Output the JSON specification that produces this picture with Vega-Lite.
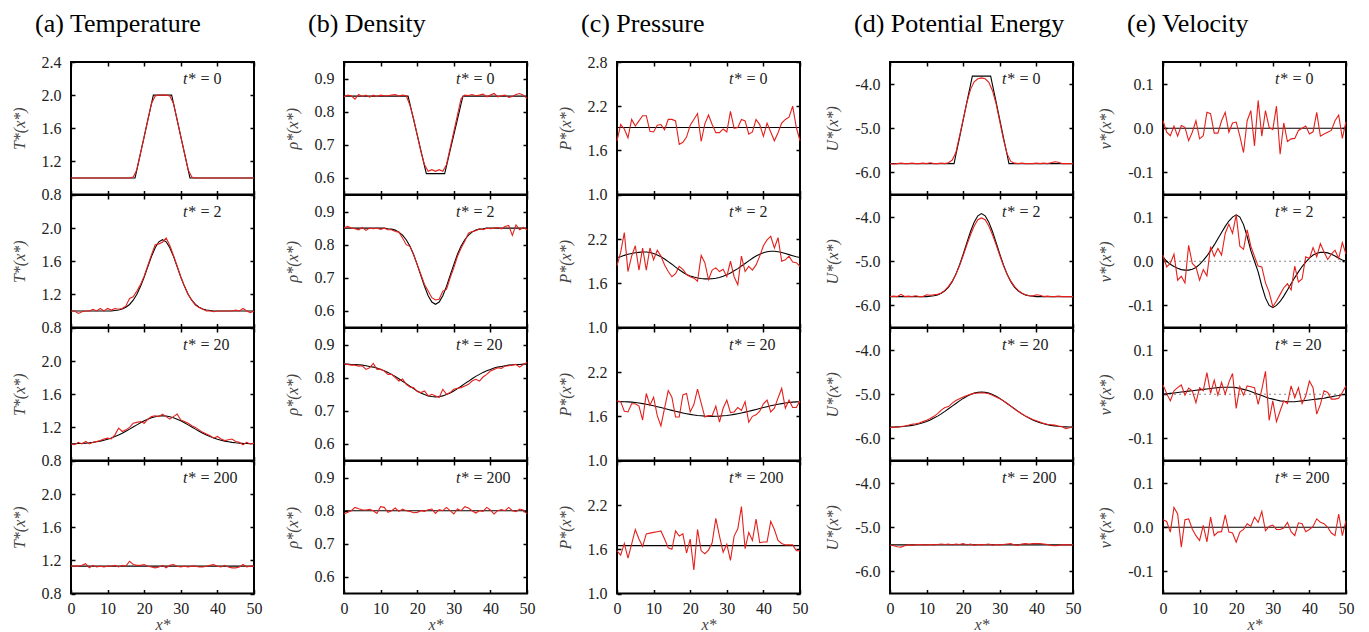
{
"$schema":"https://vega.github.io/schema/vega-lite/v6.json",
"background":"white",
"padding":{"left":10,"top":10,"right":0,"bottom":0},
"bounds":"flush",
"columns":5,
"spacing":{"row":0,"column":90},
"config":{
 "view":{"stroke":"#000","strokeWidth":2},
 "axis":{"grid":false,"domain":false,"tickSize":-4,"tickColor":"#000","tickWidth":1.5,"labelFont":"Liberation Serif","labelFontSize":16,"labelColor":"#222","labelPadding":14,"labelFlush":false,"labelOverlap":false,"titleFont":"Liberation Serif","titleFontSize":16,"titleFontWeight":"normal","titleFontStyle":"italic","titleColor":"#444"},
 "axisY":{"titlePadding":14},
 "axisX":{"titlePadding":0,"labelPadding":11},
 "line":{"strokeWidth":1.1},
 "text":{"font":"Liberation Serif","fontSize":16,"color":"#222","baseline":"middle"},
 "title":{"font":"Liberation Serif","fontSize":26,"fontWeight":"normal","color":"#000","anchor":"start","frame":"group","baseline":"alphabetic"}
},
"datasets":{
"a0":[{"x":0,"r":1,"b":1},{"x":1,"r":1,"b":1},{"x":2,"r":1,"b":1},{"x":3,"r":1,"b":1},{"x":4,"r":1,"b":1},{"x":5,"r":1,"b":1},{"x":6,"r":1,"b":1},{"x":7,"r":1,"b":1},{"x":8,"r":1,"b":1},{"x":9,"r":1,"b":1},{"x":10,"r":1,"b":1},{"x":11,"r":1,"b":1},{"x":12,"r":1,"b":1},{"x":13,"r":1,"b":1},{"x":14,"r":1,"b":1},{"x":15,"r":1,"b":1},{"x":16,"r":1,"b":1},{"x":17,"r":1.01,"b":1},{"x":17.5,"b":1},{"x":18,"r":1.1,"b":1.1},{"x":19,"r":1.3,"b":1.3},{"x":20,"r":1.5,"b":1.5},{"x":21,"r":1.7,"b":1.7},{"x":22,"r":1.9,"b":1.9},{"x":22.5,"b":2},{"x":23,"r":1.99,"b":2},{"x":24,"r":2,"b":2},{"x":25,"r":2,"b":2},{"x":26,"r":2,"b":2},{"x":27,"r":1.99,"b":2},{"x":27.5,"b":2},{"x":28,"r":1.9,"b":1.9},{"x":29,"r":1.7,"b":1.7},{"x":30,"r":1.5,"b":1.5},{"x":31,"r":1.3,"b":1.3},{"x":32,"r":1.1,"b":1.1},{"x":32.5,"b":1},{"x":33,"r":1.01,"b":1},{"x":34,"r":1,"b":1},{"x":35,"r":1,"b":1},{"x":36,"r":1,"b":1},{"x":37,"r":1,"b":1},{"x":38,"r":1,"b":1},{"x":39,"r":1,"b":1},{"x":40,"r":1,"b":1},{"x":41,"r":1,"b":1},{"x":42,"r":1,"b":1},{"x":43,"r":1,"b":1},{"x":44,"r":1,"b":1},{"x":45,"r":1,"b":1},{"x":46,"r":1,"b":1},{"x":47,"r":1,"b":1},{"x":48,"r":1,"b":1},{"x":49,"r":1,"b":1},{"x":50,"r":1,"b":1}],
"a2":[{"x":0,"r":1,"b":1},{"x":1,"r":1,"b":1},{"x":2,"r":0.97,"b":1},{"x":3,"r":0.99,"b":1},{"x":4,"r":1,"b":1},{"x":5,"r":1,"b":1},{"x":6,"r":1.02,"b":1},{"x":7,"r":1,"b":1},{"x":8,"r":1.03,"b":1},{"x":9,"r":1,"b":1},{"x":10,"r":1.03,"b":1},{"x":11,"r":1.01,"b":1},{"x":12,"r":1.03,"b":1.006},{"x":13,"r":1.02,"b":1.012},{"x":14,"r":1.03,"b":1.024},{"x":15,"r":1.06,"b":1.045},{"x":16,"r":1.15,"b":1.078},{"x":17,"r":1.17,"b":1.13},{"x":18,"r":1.24,"b":1.202},{"x":19,"r":1.32,"b":1.297},{"x":20,"r":1.42,"b":1.41},{"x":21,"r":1.55,"b":1.536},{"x":22,"r":1.68,"b":1.659},{"x":23,"r":1.8,"b":1.764},{"x":24,"r":1.81,"b":1.835},{"x":25,"r":1.83,"b":1.86},{"x":26,"r":1.88,"b":1.835},{"x":27,"r":1.79,"b":1.764},{"x":28,"r":1.67,"b":1.659},{"x":29,"r":1.54,"b":1.536},{"x":30,"r":1.41,"b":1.41},{"x":31,"r":1.3,"b":1.297},{"x":32,"r":1.2,"b":1.202},{"x":33,"r":1.13,"b":1.13},{"x":34,"r":1.07,"b":1.078},{"x":35,"r":1.04,"b":1.045},{"x":36,"r":1.02,"b":1.024},{"x":37,"r":1,"b":1.012},{"x":38,"r":1,"b":1.006},{"x":39,"r":0.99,"b":1},{"x":40,"r":1,"b":1},{"x":41,"r":1,"b":1},{"x":42,"r":1,"b":1},{"x":43,"r":1,"b":1},{"x":44,"r":1,"b":1},{"x":45,"r":1.01,"b":1},{"x":46,"r":1,"b":1},{"x":47,"r":1.03,"b":1},{"x":48,"r":1,"b":1},{"x":49,"r":0.98,"b":1},{"x":50,"r":1,"b":1}],
"a20":[{"x":0,"r":1,"b":1.002},{"x":1,"r":0.99,"b":1.003},{"x":2,"r":1.02,"b":1.005},{"x":3,"r":1,"b":1.007},{"x":4,"r":1.03,"b":1.01},{"x":5,"r":1,"b":1.014},{"x":6,"r":1.02,"b":1.019},{"x":7,"r":1.03,"b":1.026},{"x":8,"r":1.04,"b":1.034},{"x":9,"r":1.06,"b":1.045},{"x":10,"r":1.07,"b":1.057},{"x":11,"r":1.06,"b":1.072},{"x":12,"r":1.11,"b":1.089},{"x":13,"r":1.19,"b":1.108},{"x":14,"r":1.15,"b":1.13},{"x":15,"r":1.17,"b":1.154},{"x":16,"r":1.2,"b":1.179},{"x":17,"r":1.25,"b":1.205},{"x":18,"r":1.26,"b":1.23},{"x":19,"r":1.27,"b":1.255},{"x":20,"r":1.25,"b":1.279},{"x":21,"r":1.3,"b":1.299},{"x":22,"r":1.33,"b":1.317},{"x":23,"r":1.34,"b":1.329},{"x":24,"r":1.33,"b":1.337},{"x":25,"r":1.36,"b":1.34},{"x":26,"r":1.33,"b":1.337},{"x":27,"r":1.3,"b":1.329},{"x":28,"r":1.33,"b":1.317},{"x":29,"r":1.36,"b":1.299},{"x":30,"r":1.29,"b":1.279},{"x":31,"r":1.27,"b":1.255},{"x":32,"r":1.25,"b":1.23},{"x":33,"r":1.22,"b":1.205},{"x":34,"r":1.2,"b":1.179},{"x":35,"r":1.17,"b":1.154},{"x":36,"r":1.14,"b":1.13},{"x":37,"r":1.12,"b":1.108},{"x":38,"r":1.1,"b":1.089},{"x":39,"r":1.07,"b":1.072},{"x":40,"r":1.09,"b":1.057},{"x":41,"r":1.06,"b":1.045},{"x":42,"r":1.04,"b":1.034},{"x":43,"r":1.05,"b":1.026},{"x":44,"r":1.06,"b":1.019},{"x":45,"r":1.03,"b":1.014},{"x":46,"r":1.02,"b":1.01},{"x":47,"r":0.99,"b":1.007},{"x":48,"r":1.02,"b":1.005},{"x":49,"r":1,"b":1.003},{"x":50,"r":1.01,"b":1.002}],
"a200":[{"x":0,"r":1.13,"b":1.13},{"x":1,"r":1.13,"b":1.13},{"x":2,"r":1.13,"b":1.13},{"x":3,"r":1.14,"b":1.13},{"x":4,"r":1.16,"b":1.13},{"x":5,"r":1.11,"b":1.13},{"x":6,"r":1.14,"b":1.13},{"x":7,"r":1.12,"b":1.13},{"x":8,"r":1.13,"b":1.13},{"x":9,"r":1.12,"b":1.13},{"x":10,"r":1.13,"b":1.13},{"x":11,"r":1.13,"b":1.13},{"x":12,"r":1.14,"b":1.13},{"x":13,"r":1.12,"b":1.13},{"x":14,"r":1.14,"b":1.13},{"x":15,"r":1.13,"b":1.13},{"x":16,"r":1.19,"b":1.13},{"x":17,"r":1.15,"b":1.13},{"x":18,"r":1.14,"b":1.13},{"x":19,"r":1.14,"b":1.13},{"x":20,"r":1.15,"b":1.13},{"x":21,"r":1.13,"b":1.13},{"x":22,"r":1.12,"b":1.13},{"x":23,"r":1.11,"b":1.13},{"x":24,"r":1.12,"b":1.13},{"x":25,"r":1.14,"b":1.13},{"x":26,"r":1.11,"b":1.13},{"x":27,"r":1.14,"b":1.13},{"x":28,"r":1.15,"b":1.13},{"x":29,"r":1.13,"b":1.13},{"x":30,"r":1.12,"b":1.13},{"x":31,"r":1.13,"b":1.13},{"x":32,"r":1.12,"b":1.13},{"x":33,"r":1.13,"b":1.13},{"x":34,"r":1.13,"b":1.13},{"x":35,"r":1.12,"b":1.13},{"x":36,"r":1.12,"b":1.13},{"x":37,"r":1.13,"b":1.13},{"x":38,"r":1.14,"b":1.13},{"x":39,"r":1.15,"b":1.13},{"x":40,"r":1.13,"b":1.13},{"x":41,"r":1.12,"b":1.13},{"x":42,"r":1.14,"b":1.13},{"x":43,"r":1.12,"b":1.13},{"x":44,"r":1.11,"b":1.13},{"x":45,"r":1.11,"b":1.13},{"x":46,"r":1.12,"b":1.13},{"x":47,"r":1.15,"b":1.13},{"x":48,"r":1.12,"b":1.13},{"x":49,"r":1.13,"b":1.13},{"x":50,"r":1.13,"b":1.13}],
"b0":[{"x":0,"r":0.845,"b":0.847},{"x":1,"r":0.85,"b":0.847},{"x":2,"r":0.848,"b":0.847},{"x":3,"r":0.838,"b":0.847},{"x":4,"r":0.852,"b":0.847},{"x":5,"r":0.846,"b":0.847},{"x":6,"r":0.85,"b":0.847},{"x":7,"r":0.844,"b":0.847},{"x":8,"r":0.85,"b":0.847},{"x":9,"r":0.846,"b":0.847},{"x":10,"r":0.85,"b":0.847},{"x":11,"r":0.848,"b":0.847},{"x":12,"r":0.848,"b":0.847},{"x":13,"r":0.85,"b":0.847},{"x":14,"r":0.852,"b":0.847},{"x":15,"r":0.847,"b":0.847},{"x":16,"r":0.85,"b":0.847},{"x":17,"r":0.848,"b":0.847},{"x":17.5,"b":0.847},{"x":18,"r":0.82,"b":0.824},{"x":19,"r":0.78,"b":0.777},{"x":20,"r":0.73,"b":0.73},{"x":21,"r":0.68,"b":0.683},{"x":22,"r":0.64,"b":0.636},{"x":22.5,"b":0.613},{"x":23,"r":0.62,"b":0.613},{"x":24,"r":0.625,"b":0.613},{"x":25,"r":0.62,"b":0.613},{"x":26,"r":0.625,"b":0.613},{"x":27,"r":0.62,"b":0.613},{"x":27.5,"b":0.613},{"x":28,"r":0.64,"b":0.636},{"x":29,"r":0.69,"b":0.683},{"x":30,"r":0.74,"b":0.73},{"x":31,"r":0.79,"b":0.777},{"x":32,"r":0.84,"b":0.824},{"x":32.5,"b":0.847},{"x":33,"r":0.85,"b":0.847},{"x":34,"r":0.849,"b":0.847},{"x":35,"r":0.852,"b":0.847},{"x":36,"r":0.848,"b":0.847},{"x":37,"r":0.85,"b":0.847},{"x":38,"r":0.853,"b":0.847},{"x":39,"r":0.845,"b":0.847},{"x":40,"r":0.85,"b":0.847},{"x":41,"r":0.855,"b":0.847},{"x":42,"r":0.845,"b":0.847},{"x":43,"r":0.848,"b":0.847},{"x":44,"r":0.85,"b":0.847},{"x":45,"r":0.843,"b":0.847},{"x":46,"r":0.846,"b":0.847},{"x":47,"r":0.852,"b":0.847},{"x":48,"r":0.855,"b":0.847},{"x":49,"r":0.85,"b":0.847},{"x":50,"r":0.84,"b":0.847}],
"b2":[{"x":0,"r":0.85,"b":0.85},{"x":1,"r":0.855,"b":0.85},{"x":2,"r":0.85,"b":0.85},{"x":3,"r":0.848,"b":0.85},{"x":4,"r":0.845,"b":0.85},{"x":5,"r":0.852,"b":0.85},{"x":6,"r":0.843,"b":0.85},{"x":7,"r":0.85,"b":0.85},{"x":8,"r":0.848,"b":0.85},{"x":9,"r":0.85,"b":0.85},{"x":10,"r":0.846,"b":0.85},{"x":11,"r":0.85,"b":0.85},{"x":12,"r":0.845,"b":0.848},{"x":13,"r":0.845,"b":0.847},{"x":14,"r":0.84,"b":0.844},{"x":15,"r":0.838,"b":0.838},{"x":16,"r":0.82,"b":0.829},{"x":17,"r":0.8,"b":0.815},{"x":18,"r":0.795,"b":0.796},{"x":19,"r":0.77,"b":0.771},{"x":20,"r":0.74,"b":0.74},{"x":21,"r":0.71,"b":0.707},{"x":22,"r":0.68,"b":0.674},{"x":23,"r":0.66,"b":0.646},{"x":24,"r":0.64,"b":0.627},{"x":25,"r":0.633,"b":0.62},{"x":26,"r":0.635,"b":0.627},{"x":27,"r":0.66,"b":0.646},{"x":28,"r":0.665,"b":0.674},{"x":29,"r":0.7,"b":0.707},{"x":30,"r":0.73,"b":0.74},{"x":31,"r":0.765,"b":0.771},{"x":32,"r":0.79,"b":0.796},{"x":33,"r":0.81,"b":0.815},{"x":34,"r":0.835,"b":0.829},{"x":35,"r":0.84,"b":0.838},{"x":36,"r":0.842,"b":0.844},{"x":37,"r":0.848,"b":0.847},{"x":38,"r":0.845,"b":0.848},{"x":39,"r":0.85,"b":0.85},{"x":40,"r":0.848,"b":0.85},{"x":41,"r":0.85,"b":0.85},{"x":42,"r":0.852,"b":0.85},{"x":43,"r":0.848,"b":0.85},{"x":44,"r":0.855,"b":0.85},{"x":45,"r":0.858,"b":0.85},{"x":46,"r":0.828,"b":0.85},{"x":47,"r":0.86,"b":0.85},{"x":48,"r":0.845,"b":0.85},{"x":49,"r":0.852,"b":0.85},{"x":50,"r":0.845,"b":0.85}],
"b20":[{"x":0,"r":0.842,"b":0.841},{"x":1,"r":0.84,"b":0.841},{"x":2,"r":0.838,"b":0.84},{"x":3,"r":0.838,"b":0.84},{"x":4,"r":0.835,"b":0.839},{"x":5,"r":0.836,"b":0.838},{"x":6,"r":0.825,"b":0.836},{"x":7,"r":0.83,"b":0.834},{"x":8,"r":0.843,"b":0.832},{"x":9,"r":0.825,"b":0.829},{"x":10,"r":0.826,"b":0.825},{"x":11,"r":0.82,"b":0.821},{"x":12,"r":0.81,"b":0.816},{"x":13,"r":0.81,"b":0.81},{"x":14,"r":0.8,"b":0.804},{"x":15,"r":0.79,"b":0.797},{"x":16,"r":0.796,"b":0.789},{"x":17,"r":0.78,"b":0.782},{"x":18,"r":0.772,"b":0.774},{"x":19,"r":0.77,"b":0.767},{"x":20,"r":0.758,"b":0.76},{"x":21,"r":0.755,"b":0.754},{"x":22,"r":0.76,"b":0.749},{"x":23,"r":0.745,"b":0.745},{"x":24,"r":0.75,"b":0.743},{"x":25,"r":0.745,"b":0.742},{"x":26,"r":0.74,"b":0.743},{"x":27,"r":0.765,"b":0.745},{"x":28,"r":0.75,"b":0.749},{"x":29,"r":0.755,"b":0.754},{"x":30,"r":0.765,"b":0.76},{"x":31,"r":0.768,"b":0.767},{"x":32,"r":0.77,"b":0.774},{"x":33,"r":0.775,"b":0.782},{"x":34,"r":0.78,"b":0.789},{"x":35,"r":0.79,"b":0.797},{"x":36,"r":0.795,"b":0.804},{"x":37,"r":0.79,"b":0.81},{"x":38,"r":0.802,"b":0.816},{"x":39,"r":0.81,"b":0.821},{"x":40,"r":0.82,"b":0.825},{"x":41,"r":0.825,"b":0.829},{"x":42,"r":0.83,"b":0.832},{"x":43,"r":0.828,"b":0.834},{"x":44,"r":0.835,"b":0.836},{"x":45,"r":0.836,"b":0.838},{"x":46,"r":0.838,"b":0.839},{"x":47,"r":0.84,"b":0.84},{"x":48,"r":0.832,"b":0.84},{"x":49,"r":0.84,"b":0.841},{"x":50,"r":0.846,"b":0.841}],
"b200":[{"x":0,"r":0.79,"b":0.8},{"x":1,"r":0.795,"b":0.8},{"x":2,"r":0.8,"b":0.8},{"x":3,"r":0.81,"b":0.8},{"x":4,"r":0.806,"b":0.8},{"x":5,"r":0.803,"b":0.8},{"x":6,"r":0.802,"b":0.8},{"x":7,"r":0.804,"b":0.8},{"x":8,"r":0.8,"b":0.8},{"x":9,"r":0.792,"b":0.8},{"x":10,"r":0.812,"b":0.8},{"x":11,"r":0.81,"b":0.8},{"x":12,"r":0.795,"b":0.8},{"x":13,"r":0.8,"b":0.8},{"x":14,"r":0.808,"b":0.8},{"x":15,"r":0.798,"b":0.8},{"x":16,"r":0.805,"b":0.8},{"x":17,"r":0.8,"b":0.8},{"x":18,"r":0.798,"b":0.8},{"x":19,"r":0.794,"b":0.8},{"x":20,"r":0.795,"b":0.8},{"x":21,"r":0.8,"b":0.8},{"x":22,"r":0.798,"b":0.8},{"x":23,"r":0.803,"b":0.8},{"x":24,"r":0.805,"b":0.8},{"x":25,"r":0.792,"b":0.8},{"x":26,"r":0.803,"b":0.8},{"x":27,"r":0.8,"b":0.8},{"x":28,"r":0.81,"b":0.8},{"x":29,"r":0.8,"b":0.8},{"x":30,"r":0.79,"b":0.8},{"x":31,"r":0.805,"b":0.8},{"x":32,"r":0.8,"b":0.8},{"x":33,"r":0.812,"b":0.8},{"x":34,"r":0.808,"b":0.8},{"x":35,"r":0.8,"b":0.8},{"x":36,"r":0.793,"b":0.8},{"x":37,"r":0.8,"b":0.8},{"x":38,"r":0.798,"b":0.8},{"x":39,"r":0.81,"b":0.8},{"x":40,"r":0.802,"b":0.8},{"x":41,"r":0.79,"b":0.8},{"x":42,"r":0.8,"b":0.8},{"x":43,"r":0.803,"b":0.8},{"x":44,"r":0.8,"b":0.8},{"x":45,"r":0.81,"b":0.8},{"x":46,"r":0.8,"b":0.8},{"x":47,"r":0.797,"b":0.8},{"x":48,"r":0.805,"b":0.8},{"x":49,"r":0.802,"b":0.8},{"x":50,"r":0.79,"b":0.8}],
"c0":[{"x":0,"r":1.73,"b":1.91},{"x":1,"r":1.95,"b":1.91},{"x":2,"r":1.89,"b":1.91},{"x":3,"r":1.77,"b":1.91},{"x":4,"r":2.02,"b":1.91},{"x":5,"r":1.93,"b":1.91},{"x":6,"r":2.0,"b":1.91},{"x":7,"r":2.07,"b":1.91},{"x":8,"r":2.07,"b":1.91},{"x":9,"r":1.86,"b":1.91},{"x":10,"r":1.85,"b":1.91},{"x":11,"r":1.94,"b":1.91},{"x":12,"r":1.95,"b":1.91},{"x":13,"r":1.88,"b":1.91},{"x":14,"r":2.02,"b":1.91},{"x":15,"r":2.02,"b":1.91},{"x":16,"r":2.0,"b":1.91},{"x":17,"r":1.68,"b":1.91},{"x":18,"r":1.71,"b":1.91},{"x":19,"r":1.78,"b":1.91},{"x":20,"r":1.94,"b":1.91},{"x":21,"r":2.02,"b":1.91},{"x":22,"r":2.1,"b":1.91},{"x":23,"r":1.72,"b":1.91},{"x":24,"r":1.96,"b":1.91},{"x":25,"r":2.08,"b":1.91},{"x":26,"r":1.95,"b":1.91},{"x":27,"r":1.84,"b":1.91},{"x":28,"r":1.84,"b":1.91},{"x":29,"r":1.89,"b":1.91},{"x":30,"r":1.85,"b":1.91},{"x":31,"r":2.13,"b":1.91},{"x":32,"r":1.9,"b":1.91},{"x":33,"r":1.91,"b":1.91},{"x":34,"r":2.02,"b":1.91},{"x":35,"r":2.0,"b":1.91},{"x":36,"r":1.82,"b":1.91},{"x":37,"r":1.85,"b":1.91},{"x":38,"r":2.02,"b":1.91},{"x":39,"r":1.95,"b":1.91},{"x":40,"r":1.79,"b":1.91},{"x":41,"r":1.97,"b":1.91},{"x":42,"r":1.85,"b":1.91},{"x":43,"r":1.73,"b":1.91},{"x":44,"r":1.84,"b":1.91},{"x":45,"r":1.97,"b":1.91},{"x":46,"r":2.02,"b":1.91},{"x":47,"r":2.05,"b":1.91},{"x":48,"r":2.2,"b":1.91},{"x":49,"r":1.91,"b":1.91},{"x":50,"r":1.73,"b":1.91}],
"c2":[{"x":0,"r":1.84,"b":1.95},{"x":1,"r":2.02,"b":1.96},{"x":2,"r":2.29,"b":1.98},{"x":3,"r":1.76,"b":1.995},{"x":4,"r":1.97,"b":2.005},{"x":5,"r":2.11,"b":2.015},{"x":6,"r":1.78,"b":2.02},{"x":7,"r":2.08,"b":2.025},{"x":8,"r":1.78,"b":2.025},{"x":9,"r":2.08,"b":2.02},{"x":10,"r":1.92,"b":2.005},{"x":11,"r":2.05,"b":1.985},{"x":12,"r":1.97,"b":1.96},{"x":13,"r":1.85,"b":1.93},{"x":14,"r":1.76,"b":1.895},{"x":15,"r":1.69,"b":1.86},{"x":16,"r":1.73,"b":1.82},{"x":17,"r":1.83,"b":1.785},{"x":18,"r":1.79,"b":1.75},{"x":19,"r":1.72,"b":1.72},{"x":20,"r":1.69,"b":1.7},{"x":21,"r":1.67,"b":1.685},{"x":22,"r":1.63,"b":1.672},{"x":23,"r":1.98,"b":1.665},{"x":24,"r":1.88,"b":1.66},{"x":25,"r":1.65,"b":1.66},{"x":26,"r":1.78,"b":1.662},{"x":27,"r":1.81,"b":1.668},{"x":28,"r":1.76,"b":1.68},{"x":29,"r":1.79,"b":1.695},{"x":30,"r":1.69,"b":1.715},{"x":31,"r":1.9,"b":1.74},{"x":32,"r":1.69,"b":1.77},{"x":33,"r":1.58,"b":1.8},{"x":34,"r":1.97,"b":1.835},{"x":35,"r":1.76,"b":1.87},{"x":36,"r":1.83,"b":1.905},{"x":37,"r":1.78,"b":1.94},{"x":38,"r":1.85,"b":1.97},{"x":39,"r":1.97,"b":1.995},{"x":40,"r":2.11,"b":2.015},{"x":41,"r":2.19,"b":2.028},{"x":42,"r":2.24,"b":2.035},{"x":43,"r":2.08,"b":2.035},{"x":44,"r":2.22,"b":2.03},{"x":45,"r":1.9,"b":2.02},{"x":46,"r":1.92,"b":2.005},{"x":47,"r":1.97,"b":1.99},{"x":48,"r":1.89,"b":1.975},{"x":49,"r":1.88,"b":1.96},{"x":50,"r":1.83,"b":1.95}],
"c20":[{"x":0,"r":1.81,"b":1.799},{"x":1,"r":1.8,"b":1.8},{"x":2,"r":1.67,"b":1.799},{"x":3,"r":1.66,"b":1.797},{"x":4,"r":1.77,"b":1.793},{"x":5,"r":1.77,"b":1.788},{"x":6,"r":1.74,"b":1.781},{"x":7,"r":1.55,"b":1.773},{"x":8,"r":1.91,"b":1.764},{"x":9,"r":1.75,"b":1.754},{"x":10,"r":1.86,"b":1.743},{"x":11,"r":1.61,"b":1.731},{"x":12,"r":1.47,"b":1.719},{"x":13,"r":1.71,"b":1.706},{"x":14,"r":1.95,"b":1.694},{"x":15,"r":1.86,"b":1.681},{"x":16,"r":1.59,"b":1.669},{"x":17,"r":1.59,"b":1.657},{"x":18,"r":1.89,"b":1.646},{"x":19,"r":1.91,"b":1.636},{"x":20,"r":1.66,"b":1.627},{"x":21,"r":1.76,"b":1.619},{"x":22,"r":1.97,"b":1.612},{"x":23,"r":1.78,"b":1.607},{"x":24,"r":1.59,"b":1.603},{"x":25,"r":1.61,"b":1.601},{"x":26,"r":1.61,"b":1.6},{"x":27,"r":1.74,"b":1.601},{"x":28,"r":1.52,"b":1.603},{"x":29,"r":1.71,"b":1.607},{"x":30,"r":1.82,"b":1.612},{"x":31,"r":1.65,"b":1.619},{"x":32,"r":1.66,"b":1.627},{"x":33,"r":1.72,"b":1.636},{"x":34,"r":1.68,"b":1.646},{"x":35,"r":1.8,"b":1.657},{"x":36,"r":1.52,"b":1.669},{"x":37,"r":1.6,"b":1.681},{"x":38,"r":1.62,"b":1.694},{"x":39,"r":1.67,"b":1.706},{"x":40,"r":1.77,"b":1.719},{"x":41,"r":1.82,"b":1.731},{"x":42,"r":1.66,"b":1.743},{"x":43,"r":1.71,"b":1.754},{"x":44,"r":1.85,"b":1.764},{"x":45,"r":1.98,"b":1.773},{"x":46,"r":1.71,"b":1.781},{"x":47,"r":1.82,"b":1.788},{"x":48,"r":1.72,"b":1.793},{"x":49,"r":1.72,"b":1.797},{"x":50,"r":1.81,"b":1.799}],
"c200":[{"x":0,"r":1.58,"b":1.65},{"x":1,"r":1.52,"b":1.65},{"x":2,"r":1.68,"b":1.65},{"x":3,"r":1.48,"b":1.65},{"x":4,"r":1.67,"b":1.65},{"x":5,"r":1.87,"b":1.65},{"x":6,"r":1.74,"b":1.65},{"x":7,"r":1.64,"b":1.65},{"x":8,"r":1.81,"b":1.65},{"x":9,"r":1.82,"b":1.65},{"x":10,"r":1.83,"b":1.65},{"x":11,"r":1.84,"b":1.65},{"x":12,"r":1.85,"b":1.65},{"x":13,"r":1.74,"b":1.65},{"x":14,"r":1.62,"b":1.65},{"x":15,"r":1.6,"b":1.65},{"x":16,"r":1.85,"b":1.65},{"x":17,"r":1.78,"b":1.65},{"x":18,"r":1.81,"b":1.65},{"x":19,"r":1.55,"b":1.65},{"x":20,"r":1.74,"b":1.65},{"x":21,"r":1.32,"b":1.65},{"x":22,"r":1.87,"b":1.65},{"x":23,"r":1.58,"b":1.65},{"x":24,"r":1.54,"b":1.65},{"x":25,"r":1.59,"b":1.65},{"x":26,"r":1.69,"b":1.65},{"x":27,"r":2.02,"b":1.65},{"x":28,"r":1.78,"b":1.65},{"x":29,"r":1.56,"b":1.65},{"x":30,"r":1.67,"b":1.65},{"x":31,"r":1.45,"b":1.65},{"x":32,"r":1.78,"b":1.65},{"x":33,"r":1.88,"b":1.65},{"x":34,"r":2.18,"b":1.65},{"x":35,"r":1.61,"b":1.65},{"x":36,"r":1.83,"b":1.65},{"x":37,"r":1.72,"b":1.65},{"x":38,"r":2.01,"b":1.65},{"x":39,"r":1.69,"b":1.65},{"x":40,"r":1.7,"b":1.65},{"x":41,"r":1.7,"b":1.65},{"x":42,"r":1.98,"b":1.65},{"x":43,"r":1.87,"b":1.65},{"x":44,"r":1.72,"b":1.65},{"x":45,"r":1.68,"b":1.65},{"x":46,"r":1.66,"b":1.65},{"x":47,"r":1.66,"b":1.65},{"x":48,"r":1.66,"b":1.65},{"x":49,"r":1.58,"b":1.65},{"x":50,"r":1.58,"b":1.65}],
"d0":[{"x":0,"r":-5.8,"b":-5.8},{"x":1,"r":-5.81,"b":-5.8},{"x":2,"r":-5.8,"b":-5.8},{"x":3,"r":-5.79,"b":-5.8},{"x":4,"r":-5.8,"b":-5.8},{"x":5,"r":-5.8,"b":-5.8},{"x":6,"r":-5.79,"b":-5.8},{"x":7,"r":-5.8,"b":-5.8},{"x":8,"r":-5.8,"b":-5.8},{"x":9,"r":-5.79,"b":-5.8},{"x":10,"r":-5.8,"b":-5.8},{"x":11,"r":-5.78,"b":-5.8},{"x":12,"r":-5.8,"b":-5.8},{"x":13,"r":-5.8,"b":-5.8},{"x":14,"r":-5.79,"b":-5.8},{"x":15,"r":-5.8,"b":-5.8},{"x":16,"r":-5.78,"b":-5.8},{"x":17,"r":-5.72,"b":-5.8},{"x":17.5,"b":-5.8},{"x":18,"r":-5.55,"b":-5.6},{"x":19,"r":-5.18,"b":-5.21},{"x":20,"r":-4.8,"b":-4.81},{"x":21,"r":-4.42,"b":-4.41},{"x":22,"r":-4.12,"b":-4.02},{"x":22.5,"b":-3.82},{"x":23,"r":-3.95,"b":-3.82},{"x":24,"r":-3.88,"b":-3.82},{"x":25,"r":-3.86,"b":-3.82},{"x":26,"r":-3.88,"b":-3.82},{"x":27,"r":-3.96,"b":-3.82},{"x":27.5,"b":-3.82},{"x":28,"r":-4.15,"b":-4.02},{"x":29,"r":-4.45,"b":-4.41},{"x":30,"r":-4.85,"b":-4.81},{"x":31,"r":-5.25,"b":-5.21},{"x":32,"r":-5.58,"b":-5.6},{"x":32.5,"b":-5.8},{"x":33,"r":-5.75,"b":-5.8},{"x":34,"r":-5.79,"b":-5.8},{"x":35,"r":-5.8,"b":-5.8},{"x":36,"r":-5.79,"b":-5.8},{"x":37,"r":-5.8,"b":-5.8},{"x":38,"r":-5.8,"b":-5.8},{"x":39,"r":-5.8,"b":-5.8},{"x":40,"r":-5.79,"b":-5.8},{"x":41,"r":-5.8,"b":-5.8},{"x":42,"r":-5.79,"b":-5.8},{"x":43,"r":-5.8,"b":-5.8},{"x":44,"r":-5.78,"b":-5.8},{"x":45,"r":-5.76,"b":-5.8},{"x":46,"r":-5.77,"b":-5.8},{"x":47,"r":-5.8,"b":-5.8},{"x":48,"r":-5.8,"b":-5.8},{"x":49,"r":-5.8,"b":-5.8},{"x":50,"r":-5.8,"b":-5.8}],
"d2":[{"x":0,"r":-5.8,"b":-5.8},{"x":1,"r":-5.79,"b":-5.8},{"x":2,"r":-5.8,"b":-5.8},{"x":3,"r":-5.75,"b":-5.8},{"x":4,"r":-5.8,"b":-5.8},{"x":5,"r":-5.79,"b":-5.8},{"x":6,"r":-5.8,"b":-5.8},{"x":7,"r":-5.78,"b":-5.8},{"x":8,"r":-5.8,"b":-5.8},{"x":9,"r":-5.8,"b":-5.8},{"x":10,"r":-5.76,"b":-5.8},{"x":11,"r":-5.77,"b":-5.79},{"x":12,"r":-5.76,"b":-5.781},{"x":13,"r":-5.75,"b":-5.762},{"x":14,"r":-5.72,"b":-5.725},{"x":15,"r":-5.66,"b":-5.668},{"x":16,"r":-5.57,"b":-5.584},{"x":17,"r":-5.45,"b":-5.462},{"x":18,"r":-5.3,"b":-5.292},{"x":19,"r":-5.1,"b":-5.086},{"x":20,"r":-4.87,"b":-4.841},{"x":21,"r":-4.63,"b":-4.578},{"x":22,"r":-4.4,"b":-4.326},{"x":23,"r":-4.2,"b":-4.114},{"x":24,"r":-4.06,"b":-3.971},{"x":25,"r":-4.02,"b":-3.92},{"x":26,"r":-4.06,"b":-3.971},{"x":27,"r":-4.2,"b":-4.114},{"x":28,"r":-4.4,"b":-4.326},{"x":29,"r":-4.63,"b":-4.578},{"x":30,"r":-4.87,"b":-4.841},{"x":31,"r":-5.1,"b":-5.086},{"x":32,"r":-5.3,"b":-5.292},{"x":33,"r":-5.45,"b":-5.462},{"x":34,"r":-5.57,"b":-5.584},{"x":35,"r":-5.66,"b":-5.668},{"x":36,"r":-5.72,"b":-5.725},{"x":37,"r":-5.76,"b":-5.762},{"x":38,"r":-5.78,"b":-5.781},{"x":39,"r":-5.79,"b":-5.79},{"x":40,"r":-5.76,"b":-5.8},{"x":41,"r":-5.77,"b":-5.8},{"x":42,"r":-5.8,"b":-5.8},{"x":43,"r":-5.79,"b":-5.8},{"x":44,"r":-5.8,"b":-5.8},{"x":45,"r":-5.8,"b":-5.8},{"x":46,"r":-5.79,"b":-5.8},{"x":47,"r":-5.8,"b":-5.8},{"x":48,"r":-5.8,"b":-5.8},{"x":49,"r":-5.8,"b":-5.8},{"x":50,"r":-5.8,"b":-5.8}],
"d20":[{"x":0,"r":-5.75,"b":-5.744},{"x":1,"r":-5.75,"b":-5.742},{"x":2,"r":-5.74,"b":-5.738},{"x":3,"r":-5.73,"b":-5.733},{"x":4,"r":-5.72,"b":-5.726},{"x":5,"r":-5.7,"b":-5.716},{"x":6,"r":-5.68,"b":-5.704},{"x":7,"r":-5.67,"b":-5.689},{"x":8,"r":-5.65,"b":-5.669},{"x":9,"r":-5.62,"b":-5.645},{"x":10,"r":-5.59,"b":-5.616},{"x":11,"r":-5.55,"b":-5.581},{"x":12,"r":-5.5,"b":-5.54},{"x":13,"r":-5.44,"b":-5.495},{"x":14,"r":-5.36,"b":-5.444},{"x":15,"r":-5.3,"b":-5.388},{"x":16,"r":-5.28,"b":-5.329},{"x":17,"r":-5.2,"b":-5.268},{"x":18,"r":-5.14,"b":-5.208},{"x":19,"r":-5.1,"b":-5.149},{"x":20,"r":-5.06,"b":-5.094},{"x":21,"r":-5.03,"b":-5.045},{"x":22,"r":-5.0,"b":-5.005},{"x":23,"r":-4.98,"b":-4.975},{"x":24,"r":-4.97,"b":-4.957},{"x":25,"r":-4.97,"b":-4.95},{"x":26,"r":-4.97,"b":-4.957},{"x":27,"r":-4.99,"b":-4.975},{"x":28,"r":-5.02,"b":-5.005},{"x":29,"r":-5.06,"b":-5.045},{"x":30,"r":-5.1,"b":-5.094},{"x":31,"r":-5.15,"b":-5.149},{"x":32,"r":-5.21,"b":-5.208},{"x":33,"r":-5.27,"b":-5.268},{"x":34,"r":-5.33,"b":-5.329},{"x":35,"r":-5.39,"b":-5.388},{"x":36,"r":-5.44,"b":-5.444},{"x":37,"r":-5.49,"b":-5.495},{"x":38,"r":-5.53,"b":-5.54},{"x":39,"r":-5.57,"b":-5.581},{"x":40,"r":-5.6,"b":-5.616},{"x":41,"r":-5.63,"b":-5.645},{"x":42,"r":-5.66,"b":-5.669},{"x":43,"r":-5.68,"b":-5.689},{"x":44,"r":-5.69,"b":-5.704},{"x":45,"r":-5.7,"b":-5.716},{"x":46,"r":-5.72,"b":-5.726},{"x":47,"r":-5.73,"b":-5.733},{"x":48,"r":-5.78,"b":-5.738},{"x":49,"r":-5.76,"b":-5.742},{"x":50,"r":-5.74,"b":-5.744}],
"d200":[{"x":0,"r":-5.4,"b":-5.4},{"x":1,"r":-5.42,"b":-5.4},{"x":2,"r":-5.44,"b":-5.4},{"x":3,"r":-5.45,"b":-5.4},{"x":4,"r":-5.42,"b":-5.4},{"x":5,"r":-5.4,"b":-5.4},{"x":6,"r":-5.41,"b":-5.4},{"x":7,"r":-5.4,"b":-5.4},{"x":8,"r":-5.39,"b":-5.4},{"x":9,"r":-5.4,"b":-5.4},{"x":10,"r":-5.4,"b":-5.4},{"x":11,"r":-5.39,"b":-5.4},{"x":12,"r":-5.4,"b":-5.4},{"x":13,"r":-5.39,"b":-5.4},{"x":14,"r":-5.38,"b":-5.4},{"x":15,"r":-5.39,"b":-5.4},{"x":16,"r":-5.38,"b":-5.4},{"x":17,"r":-5.4,"b":-5.4},{"x":18,"r":-5.38,"b":-5.4},{"x":19,"r":-5.39,"b":-5.4},{"x":20,"r":-5.37,"b":-5.4},{"x":21,"r":-5.4,"b":-5.4},{"x":22,"r":-5.38,"b":-5.4},{"x":23,"r":-5.41,"b":-5.4},{"x":24,"r":-5.39,"b":-5.4},{"x":25,"r":-5.4,"b":-5.4},{"x":26,"r":-5.39,"b":-5.4},{"x":27,"r":-5.38,"b":-5.4},{"x":28,"r":-5.41,"b":-5.4},{"x":29,"r":-5.39,"b":-5.4},{"x":30,"r":-5.4,"b":-5.4},{"x":31,"r":-5.39,"b":-5.4},{"x":32,"r":-5.38,"b":-5.4},{"x":33,"r":-5.37,"b":-5.4},{"x":34,"r":-5.4,"b":-5.4},{"x":35,"r":-5.41,"b":-5.4},{"x":36,"r":-5.38,"b":-5.4},{"x":37,"r":-5.37,"b":-5.4},{"x":38,"r":-5.38,"b":-5.4},{"x":39,"r":-5.37,"b":-5.4},{"x":40,"r":-5.37,"b":-5.4},{"x":41,"r":-5.37,"b":-5.4},{"x":42,"r":-5.38,"b":-5.4},{"x":43,"r":-5.39,"b":-5.4},{"x":44,"r":-5.41,"b":-5.4},{"x":45,"r":-5.42,"b":-5.4},{"x":46,"r":-5.41,"b":-5.4},{"x":47,"r":-5.4,"b":-5.4},{"x":48,"r":-5.4,"b":-5.4},{"x":49,"r":-5.4,"b":-5.4},{"x":50,"r":-5.4,"b":-5.4}],
"e0":[{"x":0,"r":0.017,"b":0},{"x":1,"r":-0.009,"b":0},{"x":2,"r":-0.017,"b":0},{"x":3,"r":0.005,"b":0},{"x":4,"r":-0.018,"b":0},{"x":5,"r":0.006,"b":0},{"x":6,"r":0.002,"b":0},{"x":7,"r":-0.028,"b":0},{"x":8,"r":-0.009,"b":0},{"x":9,"r":0.017,"b":0},{"x":10,"r":-0.024,"b":0},{"x":11,"r":-0.017,"b":0},{"x":12,"r":0.036,"b":0},{"x":13,"r":0.033,"b":0},{"x":14,"r":-0.011,"b":0},{"x":15,"r":-0.011,"b":0},{"x":16,"r":0.017,"b":0},{"x":17,"r":0.036,"b":0},{"x":18,"r":-0.009,"b":0},{"x":19,"r":0.012,"b":0},{"x":20,"r":0.014,"b":0},{"x":21,"r":-0.018,"b":0},{"x":22,"r":-0.055,"b":0},{"x":23,"r":0.017,"b":0},{"x":24,"r":0.04,"b":0},{"x":25,"r":-0.04,"b":0},{"x":26,"r":0.063,"b":0},{"x":27,"r":-0.018,"b":0},{"x":28,"r":0.04,"b":0},{"x":29,"r":0.002,"b":0},{"x":30,"r":-0.003,"b":0},{"x":31,"r":0.05,"b":0},{"x":32,"r":-0.059,"b":0},{"x":33,"r":0.012,"b":0},{"x":34,"r":-0.03,"b":0},{"x":35,"r":-0.024,"b":0},{"x":36,"r":-0.023,"b":0},{"x":37,"r":-0.005,"b":0},{"x":38,"r":0,"b":0},{"x":39,"r":0.005,"b":0},{"x":40,"r":-0.013,"b":0},{"x":41,"r":-0.008,"b":0},{"x":42,"r":0.036,"b":0},{"x":43,"r":-0.018,"b":0},{"x":44,"r":-0.013,"b":0},{"x":45,"r":-0.009,"b":0},{"x":46,"r":-0.005,"b":0},{"x":47,"r":0.017,"b":0},{"x":48,"r":0.03,"b":0},{"x":49,"r":-0.023,"b":0},{"x":50,"r":0.015,"b":0}],
"e2":[{"x":0,"r":0.014,"b":0.01},{"x":1,"r":-0.013,"b":0},{"x":2,"r":-0.005,"b":-0.007},{"x":3,"r":0.016,"b":-0.012},{"x":4,"r":-0.043,"b":-0.016},{"x":5,"r":-0.034,"b":-0.019},{"x":6,"r":-0.049,"b":-0.02},{"x":7,"r":0.036,"b":-0.02},{"x":8,"r":-0.005,"b":-0.018},{"x":9,"r":-0.013,"b":-0.014},{"x":10,"r":-0.043,"b":-0.007},{"x":11,"r":-0.019,"b":0.002},{"x":12,"r":-0.033,"b":0.012},{"x":13,"r":0.033,"b":0.024},{"x":14,"r":0.011,"b":0.037},{"x":15,"r":0.029,"b":0.051},{"x":16,"r":0.014,"b":0.065},{"x":17,"r":0.063,"b":0.079},{"x":18,"r":0.084,"b":0.091},{"x":19,"r":0.063,"b":0.1},{"x":20,"r":0.105,"b":0.105},{"x":21,"r":0.034,"b":0.1},{"x":22,"r":0.027,"b":0.083},{"x":23,"r":0.071,"b":0.056},{"x":24,"r":0.034,"b":0.024},{"x":25,"r":0.011,"b":0},{"x":26,"r":-0.011,"b":-0.024},{"x":27,"r":-0.013,"b":-0.056},{"x":28,"r":-0.049,"b":-0.083},{"x":29,"r":-0.07,"b":-0.1},{"x":30,"r":-0.103,"b":-0.105},{"x":31,"r":-0.09,"b":-0.1},{"x":32,"r":-0.075,"b":-0.091},{"x":33,"r":-0.06,"b":-0.079},{"x":34,"r":-0.051,"b":-0.065},{"x":35,"r":-0.065,"b":-0.051},{"x":36,"r":-0.011,"b":-0.037},{"x":37,"r":-0.047,"b":-0.024},{"x":38,"r":-0.04,"b":-0.012},{"x":39,"r":0.01,"b":-0.002},{"x":40,"r":0.006,"b":0.007},{"x":41,"r":0.031,"b":0.014},{"x":42,"r":0.01,"b":0.018},{"x":43,"r":0.04,"b":0.02},{"x":44,"r":0.021,"b":0.02},{"x":45,"r":0.004,"b":0.019},{"x":46,"r":0.016,"b":0.016},{"x":47,"r":0.025,"b":0.012},{"x":48,"r":0.006,"b":0.007},{"x":49,"r":0.042,"b":0.003},{"x":50,"r":0.016,"b":0}],
"e20":[{"x":0,"r":0.021,"b":0},{"x":1,"r":0.002,"b":0.001},{"x":2,"r":-0.015,"b":0.002},{"x":3,"r":0.008,"b":0.003},{"x":4,"r":0.015,"b":0.004},{"x":5,"r":0.021,"b":0.005},{"x":6,"r":-0.002,"b":0.006},{"x":7,"r":0.014,"b":0.007},{"x":8,"r":0.008,"b":0.008},{"x":9,"r":-0.019,"b":0.009},{"x":10,"r":0.015,"b":0.01},{"x":11,"r":0.008,"b":0.011},{"x":12,"r":0.049,"b":0.012},{"x":13,"r":0.002,"b":0.013},{"x":14,"r":0.032,"b":0.014},{"x":15,"r":-0.002,"b":0.015},{"x":16,"r":0.027,"b":0.016},{"x":17,"r":0,"b":0.016},{"x":18,"r":0.027,"b":0.016},{"x":19,"r":0.047,"b":0.016},{"x":20,"r":-0.032,"b":0.015},{"x":21,"r":0.017,"b":0.013},{"x":22,"r":-0.002,"b":0.011},{"x":23,"r":0.019,"b":0.009},{"x":24,"r":0.017,"b":0.006},{"x":25,"r":0.015,"b":0.003},{"x":26,"r":-0.023,"b":0},{"x":27,"r":0.011,"b":-0.003},{"x":28,"r":0.052,"b":-0.006},{"x":29,"r":-0.059,"b":-0.009},{"x":30,"r":-0.015,"b":-0.011},{"x":31,"r":-0.062,"b":-0.013},{"x":32,"r":-0.038,"b":-0.015},{"x":33,"r":-0.015,"b":-0.016},{"x":34,"r":-0.021,"b":-0.017},{"x":35,"r":0.019,"b":-0.017},{"x":36,"r":-0.008,"b":-0.017},{"x":37,"r":0.015,"b":-0.016},{"x":38,"r":-0.021,"b":-0.015},{"x":39,"r":-0.004,"b":-0.014},{"x":40,"r":0.03,"b":-0.013},{"x":41,"r":0.015,"b":-0.012},{"x":42,"r":-0.045,"b":-0.011},{"x":43,"r":-0.023,"b":-0.01},{"x":44,"r":0.008,"b":-0.009},{"x":45,"r":0.004,"b":-0.007},{"x":46,"r":-0.011,"b":-0.006},{"x":47,"r":-0.011,"b":-0.004},{"x":48,"r":-0.009,"b":-0.003},{"x":49,"r":0.004,"b":-0.001},{"x":50,"r":0.019,"b":0}],
"e200":[{"x":0,"r":0.017,"b":0},{"x":1,"r":0.013,"b":0},{"x":2,"r":-0.011,"b":0},{"x":3,"r":0.045,"b":0},{"x":4,"r":0.03,"b":0},{"x":5,"r":-0.045,"b":0},{"x":6,"r":0.017,"b":0},{"x":7,"r":0.019,"b":0},{"x":8,"r":-0.004,"b":0},{"x":9,"r":-0.019,"b":0},{"x":10,"r":-0.03,"b":0},{"x":11,"r":0.004,"b":0},{"x":12,"r":-0.033,"b":0},{"x":13,"r":0.023,"b":0},{"x":14,"r":-0.019,"b":0},{"x":15,"r":-0.011,"b":0},{"x":16,"r":-0.01,"b":0},{"x":17,"r":0.028,"b":0},{"x":18,"r":-0.011,"b":0},{"x":19,"r":-0.013,"b":0},{"x":20,"r":-0.034,"b":0},{"x":21,"r":-0.011,"b":0},{"x":22,"r":-0.005,"b":0},{"x":23,"r":0.008,"b":0},{"x":24,"r":0.002,"b":0},{"x":25,"r":0.023,"b":0},{"x":26,"r":0.011,"b":0},{"x":27,"r":0.036,"b":0},{"x":28,"r":-0.008,"b":0},{"x":29,"r":0.002,"b":0},{"x":30,"r":0.005,"b":0},{"x":31,"r":-0.005,"b":0},{"x":32,"r":-0.005,"b":0},{"x":33,"r":-0.002,"b":0},{"x":34,"r":0.011,"b":0},{"x":35,"r":-0.01,"b":0},{"x":36,"r":-0.019,"b":0},{"x":37,"r":0.01,"b":0},{"x":38,"r":0.008,"b":0},{"x":39,"r":-0.01,"b":0},{"x":40,"r":-0.005,"b":0},{"x":41,"r":0.002,"b":0},{"x":42,"r":0.019,"b":0},{"x":43,"r":0.011,"b":0},{"x":44,"r":0.008,"b":0},{"x":45,"r":0,"b":0},{"x":46,"r":-0.013,"b":0},{"x":47,"r":-0.019,"b":0},{"x":48,"r":0.03,"b":0},{"x":49,"r":-0.019,"b":0},{"x":50,"r":0.015,"b":0}]
},
"concat":[
 {"data":{"name":"a0"},"width":183,"height":132.5,"title":{"text":"(a) Temperature","dx":-36,"offset":17},
  "layer":[
   {"mark":{"type":"line","color":"#000"},"encoding":{"x":{"field":"x","type":"quantitative","scale":{"domain":[0,50],"nice":false},"axis":{"values":[0,10,20,30,40,50],"labels":false,"title":null}},"y":{"field":"b","type":"quantitative","scale":{"domain":[0.8,2.4],"nice":false,"zero":false},"axis":{"values":[0.8,1.2,1.6,2.0,2.4],"format":".1f","title":"T*(x*)"}}}},
   {"transform":[{"filter":"isValid(datum.r)"}],"mark":{"type":"line","color":"#e3201c"},"encoding":{"x":{"field":"x","type":"quantitative","axis":{"orient":"top","values":[0,10,20,30,40,50],"labels":false,"title":null}},"y":{"field":"r","type":"quantitative","axis":{"orient":"right","values":[0.8,1.2,1.6,2.0,2.4],"labels":false,"title":null}}}},
   {"data":{"values":[{}]},"mark":{"type":"text","align":"right","fontStyle":"italic"},"encoding":{"x":{"datum":34,"axis":null},"y":{"datum":2.2,"axis":null},"text":{"value":"t*"}}},
   {"data":{"values":[{}]},"mark":{"type":"text","align":"left","dx":5},"encoding":{"x":{"datum":34,"axis":null},"y":{"datum":2.2,"axis":null},"text":{"value":"= 0"}}}
  ],"resolve":{"axis":{"x":"independent","y":"independent"}}},
 {"data":{"name":"b0"},"width":183,"height":132.5,"title":{"text":"(b) Density","dx":-36,"offset":24},
  "layer":[
   {"mark":{"type":"line","color":"#000"},"encoding":{"x":{"field":"x","type":"quantitative","scale":{"domain":[0,50],"nice":false},"axis":{"values":[0,10,20,30,40,50],"labels":false,"title":null}},"y":{"field":"b","type":"quantitative","scale":{"domain":[0.55,0.95],"nice":false,"zero":false},"axis":{"values":[0.6,0.7,0.8,0.9],"format":".1f","title":"ρ*(x*)"}}}},
   {"transform":[{"filter":"isValid(datum.r)"}],"mark":{"type":"line","color":"#e3201c"},"encoding":{"x":{"field":"x","type":"quantitative","axis":{"orient":"top","values":[0,10,20,30,40,50],"labels":false,"title":null}},"y":{"field":"r","type":"quantitative","axis":{"orient":"right","values":[0.6,0.7,0.8,0.9],"labels":false,"title":null}}}},
   {"data":{"values":[{}]},"mark":{"type":"text","align":"right","fontStyle":"italic"},"encoding":{"x":{"datum":34,"axis":null},"y":{"datum":0.9,"axis":null},"text":{"value":"t*"}}},
   {"data":{"values":[{}]},"mark":{"type":"text","align":"left","dx":5},"encoding":{"x":{"datum":34,"axis":null},"y":{"datum":0.9,"axis":null},"text":{"value":"= 0"}}}
  ],"resolve":{"axis":{"x":"independent","y":"independent"}}},
 {"data":{"name":"c0"},"width":183,"height":132.5,"title":{"text":"(c) Pressure","dx":-36,"offset":17},
  "layer":[
   {"mark":{"type":"line","color":"#000"},"encoding":{"x":{"field":"x","type":"quantitative","scale":{"domain":[0,50],"nice":false},"axis":{"values":[0,10,20,30,40,50],"labels":false,"title":null}},"y":{"field":"b","type":"quantitative","scale":{"domain":[1.0,2.8],"nice":false,"zero":false},"axis":{"values":[1.0,1.6,2.2,2.8],"format":".1f","title":"P*(x*)"}}}},
   {"transform":[{"filter":"isValid(datum.r)"}],"mark":{"type":"line","color":"#e3201c"},"encoding":{"x":{"field":"x","type":"quantitative","axis":{"orient":"top","values":[0,10,20,30,40,50],"labels":false,"title":null}},"y":{"field":"r","type":"quantitative","axis":{"orient":"right","values":[1.0,1.6,2.2,2.8],"labels":false,"title":null}}}},
   {"data":{"values":[{}]},"mark":{"type":"text","align":"right","fontStyle":"italic"},"encoding":{"x":{"datum":34,"axis":null},"y":{"datum":2.57,"axis":null},"text":{"value":"t*"}}},
   {"data":{"values":[{}]},"mark":{"type":"text","align":"left","dx":5},"encoding":{"x":{"datum":34,"axis":null},"y":{"datum":2.57,"axis":null},"text":{"value":"= 0"}}}
  ],"resolve":{"axis":{"x":"independent","y":"independent"}}},
 {"data":{"name":"d0"},"width":183,"height":132.5,"title":{"text":"(d) Potential Energy","dx":-36,"offset":24},
  "layer":[
   {"mark":{"type":"line","color":"#000"},"encoding":{"x":{"field":"x","type":"quantitative","scale":{"domain":[0,50],"nice":false},"axis":{"values":[0,10,20,30,40,50],"labels":false,"title":null}},"y":{"field":"b","type":"quantitative","scale":{"domain":[-6.5,-3.5],"nice":false,"zero":false},"axis":{"values":[-6,-5,-4],"format":".1f","labelExpr":"replace(datum.label,'\u2212','-')","title":"U*(x*)"}}}},
   {"transform":[{"filter":"isValid(datum.r)"}],"mark":{"type":"line","color":"#e3201c"},"encoding":{"x":{"field":"x","type":"quantitative","axis":{"orient":"top","values":[0,10,20,30,40,50],"labels":false,"title":null}},"y":{"field":"r","type":"quantitative","axis":{"orient":"right","values":[-6,-5,-4],"labels":false,"title":null}}}},
   {"data":{"values":[{}]},"mark":{"type":"text","align":"right","fontStyle":"italic"},"encoding":{"x":{"datum":34,"axis":null},"y":{"datum":-3.88,"axis":null},"text":{"value":"t*"}}},
   {"data":{"values":[{}]},"mark":{"type":"text","align":"left","dx":5},"encoding":{"x":{"datum":34,"axis":null},"y":{"datum":-3.88,"axis":null},"text":{"value":"= 0"}}}
  ],"resolve":{"axis":{"x":"independent","y":"independent"}}},
 {"data":{"name":"e0"},"width":183,"height":132.5,"title":{"text":"(e) Velocity","dx":-36,"offset":24},
  "layer":[
   {"mark":{"type":"line","color":"#000"},"encoding":{"x":{"field":"x","type":"quantitative","scale":{"domain":[0,50],"nice":false},"axis":{"values":[0,10,20,30,40,50],"labels":false,"title":null}},"y":{"field":"b","type":"quantitative","scale":{"domain":[-0.15,0.15],"nice":false,"zero":false},"axis":{"values":[-0.1,0,0.1],"format":".1f","labelExpr":"replace(datum.label,'\u2212','-')","title":"v*(x*)"}}}},
   {"transform":[{"filter":"isValid(datum.r)"}],"mark":{"type":"line","color":"#e3201c"},"encoding":{"x":{"field":"x","type":"quantitative","axis":{"orient":"top","values":[0,10,20,30,40,50],"labels":false,"title":null}},"y":{"field":"r","type":"quantitative","axis":{"orient":"right","values":[-0.1,0,0.1],"labels":false,"title":null}}}},
   {"data":{"values":[{}]},"mark":{"type":"text","align":"right","fontStyle":"italic"},"encoding":{"x":{"datum":34,"axis":null},"y":{"datum":0.112,"axis":null},"text":{"value":"t*"}}},
   {"data":{"values":[{}]},"mark":{"type":"text","align":"left","dx":5},"encoding":{"x":{"datum":34,"axis":null},"y":{"datum":0.112,"axis":null},"text":{"value":"= 0"}}}
  ],"resolve":{"axis":{"x":"independent","y":"independent"}}},

 {"data":{"name":"a2"},"width":183,"height":132.5,
  "layer":[
   {"mark":{"type":"line","color":"#000"},"encoding":{"x":{"field":"x","type":"quantitative","scale":{"domain":[0,50],"nice":false},"axis":{"values":[0,10,20,30,40,50],"labels":false,"title":null}},"y":{"field":"b","type":"quantitative","scale":{"domain":[0.8,2.4],"nice":false,"zero":false},"axis":{"values":[0.8,1.2,1.6,2.0],"format":".1f","title":"T*(x*)"}}}},
   {"transform":[{"filter":"isValid(datum.r)"}],"mark":{"type":"line","color":"#e3201c"},"encoding":{"x":{"field":"x","type":"quantitative","axis":{"orient":"top","values":[0,10,20,30,40,50],"labels":false,"title":null}},"y":{"field":"r","type":"quantitative","axis":{"orient":"right","values":[0.8,1.2,1.6,2.0],"labels":false,"title":null}}}},
   {"data":{"values":[{}]},"mark":{"type":"text","align":"right","fontStyle":"italic"},"encoding":{"x":{"datum":34,"axis":null},"y":{"datum":2.2,"axis":null},"text":{"value":"t*"}}},
   {"data":{"values":[{}]},"mark":{"type":"text","align":"left","dx":5},"encoding":{"x":{"datum":34,"axis":null},"y":{"datum":2.2,"axis":null},"text":{"value":"= 2"}}}
  ],"resolve":{"axis":{"x":"independent","y":"independent"}}},
 {"data":{"name":"b2"},"width":183,"height":132.5,
  "layer":[
   {"mark":{"type":"line","color":"#000"},"encoding":{"x":{"field":"x","type":"quantitative","scale":{"domain":[0,50],"nice":false},"axis":{"values":[0,10,20,30,40,50],"labels":false,"title":null}},"y":{"field":"b","type":"quantitative","scale":{"domain":[0.55,0.95],"nice":false,"zero":false},"axis":{"values":[0.6,0.7,0.8,0.9],"format":".1f","title":"ρ*(x*)"}}}},
   {"transform":[{"filter":"isValid(datum.r)"}],"mark":{"type":"line","color":"#e3201c"},"encoding":{"x":{"field":"x","type":"quantitative","axis":{"orient":"top","values":[0,10,20,30,40,50],"labels":false,"title":null}},"y":{"field":"r","type":"quantitative","axis":{"orient":"right","values":[0.6,0.7,0.8,0.9],"labels":false,"title":null}}}},
   {"data":{"values":[{}]},"mark":{"type":"text","align":"right","fontStyle":"italic"},"encoding":{"x":{"datum":34,"axis":null},"y":{"datum":0.9,"axis":null},"text":{"value":"t*"}}},
   {"data":{"values":[{}]},"mark":{"type":"text","align":"left","dx":5},"encoding":{"x":{"datum":34,"axis":null},"y":{"datum":0.9,"axis":null},"text":{"value":"= 2"}}}
  ],"resolve":{"axis":{"x":"independent","y":"independent"}}},
 {"data":{"name":"c2"},"width":183,"height":132.5,
  "layer":[
   {"mark":{"type":"line","color":"#000"},"encoding":{"x":{"field":"x","type":"quantitative","scale":{"domain":[0,50],"nice":false},"axis":{"values":[0,10,20,30,40,50],"labels":false,"title":null}},"y":{"field":"b","type":"quantitative","scale":{"domain":[1.0,2.8],"nice":false,"zero":false},"axis":{"values":[1.0,1.6,2.2],"format":".1f","title":"P*(x*)"}}}},
   {"transform":[{"filter":"isValid(datum.r)"}],"mark":{"type":"line","color":"#e3201c"},"encoding":{"x":{"field":"x","type":"quantitative","axis":{"orient":"top","values":[0,10,20,30,40,50],"labels":false,"title":null}},"y":{"field":"r","type":"quantitative","axis":{"orient":"right","values":[1.0,1.6,2.2],"labels":false,"title":null}}}},
   {"data":{"values":[{}]},"mark":{"type":"text","align":"right","fontStyle":"italic"},"encoding":{"x":{"datum":34,"axis":null},"y":{"datum":2.57,"axis":null},"text":{"value":"t*"}}},
   {"data":{"values":[{}]},"mark":{"type":"text","align":"left","dx":5},"encoding":{"x":{"datum":34,"axis":null},"y":{"datum":2.57,"axis":null},"text":{"value":"= 2"}}}
  ],"resolve":{"axis":{"x":"independent","y":"independent"}}},
 {"data":{"name":"d2"},"width":183,"height":132.5,
  "layer":[
   {"mark":{"type":"line","color":"#000"},"encoding":{"x":{"field":"x","type":"quantitative","scale":{"domain":[0,50],"nice":false},"axis":{"values":[0,10,20,30,40,50],"labels":false,"title":null}},"y":{"field":"b","type":"quantitative","scale":{"domain":[-6.5,-3.5],"nice":false,"zero":false},"axis":{"values":[-6,-5,-4],"format":".1f","labelExpr":"replace(datum.label,'\u2212','-')","title":"U*(x*)"}}}},
   {"transform":[{"filter":"isValid(datum.r)"}],"mark":{"type":"line","color":"#e3201c"},"encoding":{"x":{"field":"x","type":"quantitative","axis":{"orient":"top","values":[0,10,20,30,40,50],"labels":false,"title":null}},"y":{"field":"r","type":"quantitative","axis":{"orient":"right","values":[-6,-5,-4],"labels":false,"title":null}}}},
   {"data":{"values":[{}]},"mark":{"type":"text","align":"right","fontStyle":"italic"},"encoding":{"x":{"datum":34,"axis":null},"y":{"datum":-3.88,"axis":null},"text":{"value":"t*"}}},
   {"data":{"values":[{}]},"mark":{"type":"text","align":"left","dx":5},"encoding":{"x":{"datum":34,"axis":null},"y":{"datum":-3.88,"axis":null},"text":{"value":"= 2"}}}
  ],"resolve":{"axis":{"x":"independent","y":"independent"}}},
 {"data":{"name":"e2"},"width":183,"height":132.5,
  "layer":[
   {"data":{"values":[{}]},"mark":{"type":"rule","color":"#888","strokeDash":[2,3],"strokeWidth":1},"encoding":{"y":{"datum":0,"axis":null,"scale":{"domain":[-0.15,0.15],"nice":false,"zero":false}}}},
   {"mark":{"type":"line","color":"#000"},"encoding":{"x":{"field":"x","type":"quantitative","scale":{"domain":[0,50],"nice":false},"axis":{"values":[0,10,20,30,40,50],"labels":false,"title":null}},"y":{"field":"b","type":"quantitative","scale":{"domain":[-0.15,0.15],"nice":false,"zero":false},"axis":{"values":[-0.1,0,0.1],"format":".1f","labelExpr":"replace(datum.label,'\u2212','-')","title":"v*(x*)"}}}},
   {"transform":[{"filter":"isValid(datum.r)"}],"mark":{"type":"line","color":"#e3201c"},"encoding":{"x":{"field":"x","type":"quantitative","axis":{"orient":"top","values":[0,10,20,30,40,50],"labels":false,"title":null}},"y":{"field":"r","type":"quantitative","axis":{"orient":"right","values":[-0.1,0,0.1],"labels":false,"title":null}}}},
   {"data":{"values":[{}]},"mark":{"type":"text","align":"right","fontStyle":"italic"},"encoding":{"x":{"datum":34,"axis":null},"y":{"datum":0.112,"axis":null},"text":{"value":"t*"}}},
   {"data":{"values":[{}]},"mark":{"type":"text","align":"left","dx":5},"encoding":{"x":{"datum":34,"axis":null},"y":{"datum":0.112,"axis":null},"text":{"value":"= 2"}}}
  ],"resolve":{"axis":{"x":"independent","y":"independent"}}},

 {"data":{"name":"a20"},"width":183,"height":132.5,
  "layer":[
   {"mark":{"type":"line","color":"#000"},"encoding":{"x":{"field":"x","type":"quantitative","scale":{"domain":[0,50],"nice":false},"axis":{"values":[0,10,20,30,40,50],"labels":false,"title":null}},"y":{"field":"b","type":"quantitative","scale":{"domain":[0.8,2.4],"nice":false,"zero":false},"axis":{"values":[0.8,1.2,1.6,2.0],"format":".1f","title":"T*(x*)"}}}},
   {"transform":[{"filter":"isValid(datum.r)"}],"mark":{"type":"line","color":"#e3201c"},"encoding":{"x":{"field":"x","type":"quantitative","axis":{"orient":"top","values":[0,10,20,30,40,50],"labels":false,"title":null}},"y":{"field":"r","type":"quantitative","axis":{"orient":"right","values":[0.8,1.2,1.6,2.0],"labels":false,"title":null}}}},
   {"data":{"values":[{}]},"mark":{"type":"text","align":"right","fontStyle":"italic"},"encoding":{"x":{"datum":34,"axis":null},"y":{"datum":2.2,"axis":null},"text":{"value":"t*"}}},
   {"data":{"values":[{}]},"mark":{"type":"text","align":"left","dx":5},"encoding":{"x":{"datum":34,"axis":null},"y":{"datum":2.2,"axis":null},"text":{"value":"= 20"}}}
  ],"resolve":{"axis":{"x":"independent","y":"independent"}}},
 {"data":{"name":"b20"},"width":183,"height":132.5,
  "layer":[
   {"mark":{"type":"line","color":"#000"},"encoding":{"x":{"field":"x","type":"quantitative","scale":{"domain":[0,50],"nice":false},"axis":{"values":[0,10,20,30,40,50],"labels":false,"title":null}},"y":{"field":"b","type":"quantitative","scale":{"domain":[0.55,0.95],"nice":false,"zero":false},"axis":{"values":[0.6,0.7,0.8,0.9],"format":".1f","title":"ρ*(x*)"}}}},
   {"transform":[{"filter":"isValid(datum.r)"}],"mark":{"type":"line","color":"#e3201c"},"encoding":{"x":{"field":"x","type":"quantitative","axis":{"orient":"top","values":[0,10,20,30,40,50],"labels":false,"title":null}},"y":{"field":"r","type":"quantitative","axis":{"orient":"right","values":[0.6,0.7,0.8,0.9],"labels":false,"title":null}}}},
   {"data":{"values":[{}]},"mark":{"type":"text","align":"right","fontStyle":"italic"},"encoding":{"x":{"datum":34,"axis":null},"y":{"datum":0.9,"axis":null},"text":{"value":"t*"}}},
   {"data":{"values":[{}]},"mark":{"type":"text","align":"left","dx":5},"encoding":{"x":{"datum":34,"axis":null},"y":{"datum":0.9,"axis":null},"text":{"value":"= 20"}}}
  ],"resolve":{"axis":{"x":"independent","y":"independent"}}},
 {"data":{"name":"c20"},"width":183,"height":132.5,
  "layer":[
   {"mark":{"type":"line","color":"#000"},"encoding":{"x":{"field":"x","type":"quantitative","scale":{"domain":[0,50],"nice":false},"axis":{"values":[0,10,20,30,40,50],"labels":false,"title":null}},"y":{"field":"b","type":"quantitative","scale":{"domain":[1.0,2.8],"nice":false,"zero":false},"axis":{"values":[1.0,1.6,2.2],"format":".1f","title":"P*(x*)"}}}},
   {"transform":[{"filter":"isValid(datum.r)"}],"mark":{"type":"line","color":"#e3201c"},"encoding":{"x":{"field":"x","type":"quantitative","axis":{"orient":"top","values":[0,10,20,30,40,50],"labels":false,"title":null}},"y":{"field":"r","type":"quantitative","axis":{"orient":"right","values":[1.0,1.6,2.2],"labels":false,"title":null}}}},
   {"data":{"values":[{}]},"mark":{"type":"text","align":"right","fontStyle":"italic"},"encoding":{"x":{"datum":34,"axis":null},"y":{"datum":2.57,"axis":null},"text":{"value":"t*"}}},
   {"data":{"values":[{}]},"mark":{"type":"text","align":"left","dx":5},"encoding":{"x":{"datum":34,"axis":null},"y":{"datum":2.57,"axis":null},"text":{"value":"= 20"}}}
  ],"resolve":{"axis":{"x":"independent","y":"independent"}}},
 {"data":{"name":"d20"},"width":183,"height":132.5,
  "layer":[
   {"mark":{"type":"line","color":"#000"},"encoding":{"x":{"field":"x","type":"quantitative","scale":{"domain":[0,50],"nice":false},"axis":{"values":[0,10,20,30,40,50],"labels":false,"title":null}},"y":{"field":"b","type":"quantitative","scale":{"domain":[-6.5,-3.5],"nice":false,"zero":false},"axis":{"values":[-6,-5,-4],"format":".1f","labelExpr":"replace(datum.label,'\u2212','-')","title":"U*(x*)"}}}},
   {"transform":[{"filter":"isValid(datum.r)"}],"mark":{"type":"line","color":"#e3201c"},"encoding":{"x":{"field":"x","type":"quantitative","axis":{"orient":"top","values":[0,10,20,30,40,50],"labels":false,"title":null}},"y":{"field":"r","type":"quantitative","axis":{"orient":"right","values":[-6,-5,-4],"labels":false,"title":null}}}},
   {"data":{"values":[{}]},"mark":{"type":"text","align":"right","fontStyle":"italic"},"encoding":{"x":{"datum":34,"axis":null},"y":{"datum":-3.88,"axis":null},"text":{"value":"t*"}}},
   {"data":{"values":[{}]},"mark":{"type":"text","align":"left","dx":5},"encoding":{"x":{"datum":34,"axis":null},"y":{"datum":-3.88,"axis":null},"text":{"value":"= 20"}}}
  ],"resolve":{"axis":{"x":"independent","y":"independent"}}},
 {"data":{"name":"e20"},"width":183,"height":132.5,
  "layer":[
   {"data":{"values":[{}]},"mark":{"type":"rule","color":"#888","strokeDash":[2,3],"strokeWidth":1},"encoding":{"y":{"datum":0,"axis":null,"scale":{"domain":[-0.15,0.15],"nice":false,"zero":false}}}},
   {"mark":{"type":"line","color":"#000"},"encoding":{"x":{"field":"x","type":"quantitative","scale":{"domain":[0,50],"nice":false},"axis":{"values":[0,10,20,30,40,50],"labels":false,"title":null}},"y":{"field":"b","type":"quantitative","scale":{"domain":[-0.15,0.15],"nice":false,"zero":false},"axis":{"values":[-0.1,0,0.1],"format":".1f","labelExpr":"replace(datum.label,'\u2212','-')","title":"v*(x*)"}}}},
   {"transform":[{"filter":"isValid(datum.r)"}],"mark":{"type":"line","color":"#e3201c"},"encoding":{"x":{"field":"x","type":"quantitative","axis":{"orient":"top","values":[0,10,20,30,40,50],"labels":false,"title":null}},"y":{"field":"r","type":"quantitative","axis":{"orient":"right","values":[-0.1,0,0.1],"labels":false,"title":null}}}},
   {"data":{"values":[{}]},"mark":{"type":"text","align":"right","fontStyle":"italic"},"encoding":{"x":{"datum":34,"axis":null},"y":{"datum":0.112,"axis":null},"text":{"value":"t*"}}},
   {"data":{"values":[{}]},"mark":{"type":"text","align":"left","dx":5},"encoding":{"x":{"datum":34,"axis":null},"y":{"datum":0.112,"axis":null},"text":{"value":"= 20"}}}
  ],"resolve":{"axis":{"x":"independent","y":"independent"}}},

 {"data":{"name":"a200"},"width":183,"height":132.5,
  "layer":[
   {"mark":{"type":"line","color":"#000"},"encoding":{"x":{"field":"x","type":"quantitative","scale":{"domain":[0,50],"nice":false},"axis":{"values":[0,10,20,30,40,50],"title":"x*"}},"y":{"field":"b","type":"quantitative","scale":{"domain":[0.8,2.4],"nice":false,"zero":false},"axis":{"values":[0.8,1.2,1.6,2.0],"format":".1f","title":"T*(x*)"}}}},
   {"transform":[{"filter":"isValid(datum.r)"}],"mark":{"type":"line","color":"#e3201c"},"encoding":{"x":{"field":"x","type":"quantitative","axis":{"orient":"top","values":[0,10,20,30,40,50],"labels":false,"title":null}},"y":{"field":"r","type":"quantitative","axis":{"orient":"right","values":[0.8,1.2,1.6,2.0],"labels":false,"title":null}}}},
   {"data":{"values":[{}]},"mark":{"type":"text","align":"right","fontStyle":"italic"},"encoding":{"x":{"datum":34,"axis":null},"y":{"datum":2.2,"axis":null},"text":{"value":"t*"}}},
   {"data":{"values":[{}]},"mark":{"type":"text","align":"left","dx":5},"encoding":{"x":{"datum":34,"axis":null},"y":{"datum":2.2,"axis":null},"text":{"value":"= 200"}}}
  ],"resolve":{"axis":{"x":"independent","y":"independent"}}},
 {"data":{"name":"b200"},"width":183,"height":132.5,
  "layer":[
   {"mark":{"type":"line","color":"#000"},"encoding":{"x":{"field":"x","type":"quantitative","scale":{"domain":[0,50],"nice":false},"axis":{"values":[0,10,20,30,40,50],"title":"x*"}},"y":{"field":"b","type":"quantitative","scale":{"domain":[0.55,0.95],"nice":false,"zero":false},"axis":{"values":[0.6,0.7,0.8,0.9],"format":".1f","title":"ρ*(x*)"}}}},
   {"transform":[{"filter":"isValid(datum.r)"}],"mark":{"type":"line","color":"#e3201c"},"encoding":{"x":{"field":"x","type":"quantitative","axis":{"orient":"top","values":[0,10,20,30,40,50],"labels":false,"title":null}},"y":{"field":"r","type":"quantitative","axis":{"orient":"right","values":[0.6,0.7,0.8,0.9],"labels":false,"title":null}}}},
   {"data":{"values":[{}]},"mark":{"type":"text","align":"right","fontStyle":"italic"},"encoding":{"x":{"datum":34,"axis":null},"y":{"datum":0.9,"axis":null},"text":{"value":"t*"}}},
   {"data":{"values":[{}]},"mark":{"type":"text","align":"left","dx":5},"encoding":{"x":{"datum":34,"axis":null},"y":{"datum":0.9,"axis":null},"text":{"value":"= 200"}}}
  ],"resolve":{"axis":{"x":"independent","y":"independent"}}},
 {"data":{"name":"c200"},"width":183,"height":132.5,
  "layer":[
   {"mark":{"type":"line","color":"#000"},"encoding":{"x":{"field":"x","type":"quantitative","scale":{"domain":[0,50],"nice":false},"axis":{"values":[0,10,20,30,40,50],"title":"x*"}},"y":{"field":"b","type":"quantitative","scale":{"domain":[1.0,2.8],"nice":false,"zero":false},"axis":{"values":[1.0,1.6,2.2],"format":".1f","title":"P*(x*)"}}}},
   {"transform":[{"filter":"isValid(datum.r)"}],"mark":{"type":"line","color":"#e3201c"},"encoding":{"x":{"field":"x","type":"quantitative","axis":{"orient":"top","values":[0,10,20,30,40,50],"labels":false,"title":null}},"y":{"field":"r","type":"quantitative","axis":{"orient":"right","values":[1.0,1.6,2.2],"labels":false,"title":null}}}},
   {"data":{"values":[{}]},"mark":{"type":"text","align":"right","fontStyle":"italic"},"encoding":{"x":{"datum":34,"axis":null},"y":{"datum":2.57,"axis":null},"text":{"value":"t*"}}},
   {"data":{"values":[{}]},"mark":{"type":"text","align":"left","dx":5},"encoding":{"x":{"datum":34,"axis":null},"y":{"datum":2.57,"axis":null},"text":{"value":"= 200"}}}
  ],"resolve":{"axis":{"x":"independent","y":"independent"}}},
 {"data":{"name":"d200"},"width":183,"height":132.5,
  "layer":[
   {"mark":{"type":"line","color":"#000"},"encoding":{"x":{"field":"x","type":"quantitative","scale":{"domain":[0,50],"nice":false},"axis":{"values":[0,10,20,30,40,50],"title":"x*"}},"y":{"field":"b","type":"quantitative","scale":{"domain":[-6.5,-3.5],"nice":false,"zero":false},"axis":{"values":[-6,-5,-4],"format":".1f","labelExpr":"replace(datum.label,'\u2212','-')","title":"U*(x*)"}}}},
   {"transform":[{"filter":"isValid(datum.r)"}],"mark":{"type":"line","color":"#e3201c"},"encoding":{"x":{"field":"x","type":"quantitative","axis":{"orient":"top","values":[0,10,20,30,40,50],"labels":false,"title":null}},"y":{"field":"r","type":"quantitative","axis":{"orient":"right","values":[-6,-5,-4],"labels":false,"title":null}}}},
   {"data":{"values":[{}]},"mark":{"type":"text","align":"right","fontStyle":"italic"},"encoding":{"x":{"datum":34,"axis":null},"y":{"datum":-3.88,"axis":null},"text":{"value":"t*"}}},
   {"data":{"values":[{}]},"mark":{"type":"text","align":"left","dx":5},"encoding":{"x":{"datum":34,"axis":null},"y":{"datum":-3.88,"axis":null},"text":{"value":"= 200"}}}
  ],"resolve":{"axis":{"x":"independent","y":"independent"}}},
 {"data":{"name":"e200"},"width":183,"height":132.5,
  "layer":[
   {"mark":{"type":"line","color":"#000"},"encoding":{"x":{"field":"x","type":"quantitative","scale":{"domain":[0,50],"nice":false},"axis":{"values":[0,10,20,30,40,50],"title":"x*"}},"y":{"field":"b","type":"quantitative","scale":{"domain":[-0.15,0.15],"nice":false,"zero":false},"axis":{"values":[-0.1,0,0.1],"format":".1f","labelExpr":"replace(datum.label,'\u2212','-')","title":"v*(x*)"}}}},
   {"transform":[{"filter":"isValid(datum.r)"}],"mark":{"type":"line","color":"#e3201c"},"encoding":{"x":{"field":"x","type":"quantitative","axis":{"orient":"top","values":[0,10,20,30,40,50],"labels":false,"title":null}},"y":{"field":"r","type":"quantitative","axis":{"orient":"right","values":[-0.1,0,0.1],"labels":false,"title":null}}}},
   {"data":{"values":[{}]},"mark":{"type":"text","align":"right","fontStyle":"italic"},"encoding":{"x":{"datum":34,"axis":null},"y":{"datum":0.112,"axis":null},"text":{"value":"t*"}}},
   {"data":{"values":[{}]},"mark":{"type":"text","align":"left","dx":5},"encoding":{"x":{"datum":34,"axis":null},"y":{"datum":0.112,"axis":null},"text":{"value":"= 200"}}}
  ],"resolve":{"axis":{"x":"independent","y":"independent"}}}
]
}
